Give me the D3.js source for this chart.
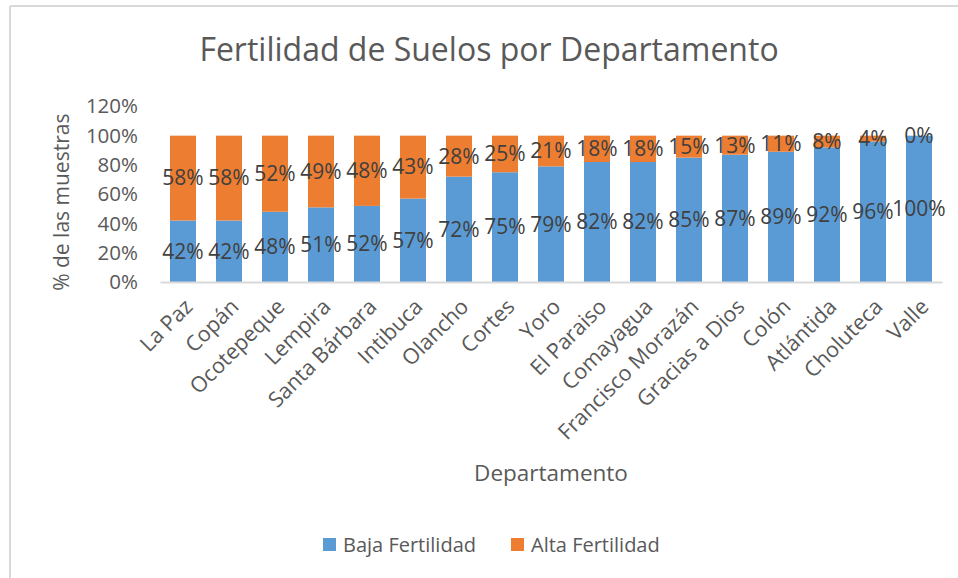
<!DOCTYPE html>
<html>
<head>
<meta charset="utf-8">
<script src="https://cdn.jsdelivr.net/npm/d3@7"></script>
<style>
  html, body { margin: 0; padding: 0; background: #ffffff; }
  svg { display: block; font-family: "Open Sans", "Noto Sans", sans-serif; }
</style>
</head>
<body>
<svg id="chart" width="958" height="578"></svg>
<script>
const categories = ["La Paz","Copán","Ocotepeque","Lempira","Santa Bárbara","Intibuca","Olancho","Cortes","Yoro","El Paraiso","Comayagua","Francisco Morazán","Gracias a Dios","Colón","Atlántida","Choluteca","Valle"];
const bajaFertilidad = [42,42,48,51,52,57,72,75,79,82,82,85,87,89,92,96,100];
const altaFertilidad = [58,58,52,49,48,43,28,25,21,18,18,15,13,11,8,4,0];
const seriesNames = ["Baja Fertilidad","Alta Fertilidad"];
const yTicks = [0,20,40,60,80,100,120];
const titleText = "Fertilidad de Suelos por Departamento";
const xTitle = "Departamento";
const yTitle = "% de las muestras";

const colors = ["#5B9BD5", "#ED7D31"];
const svg = d3.select("#chart");

// chart border (top and left visible)
svg.append("line").attr("x1", 10).attr("x2", 958).attr("y1", 6).attr("y2", 6)
  .attr("stroke", "#d9d9d9").attr("stroke-width", 2);
svg.append("line").attr("x1", 10).attr("x2", 10).attr("y1", 6).attr("y2", 578)
  .attr("stroke", "#d9d9d9").attr("stroke-width", 2);

const plot = {left: 160, right: 942, top: 106.4, bottom: 282};

const x = d3.scaleBand().domain(categories).range([plot.left, plot.right]).paddingInner(0.435).paddingOuter(0.2175);
const y = d3.scaleLinear().domain([0, 120]).range([plot.bottom, plot.top]);

const table = categories.map((c, i) => ({cat: c, baja: bajaFertilidad[i], alta: altaFertilidad[i]}));
const stack = d3.stack().keys(["baja", "alta"])(table);

// title
svg.append("text").attr("x", 489).attr("y", 61).attr("text-anchor", "middle")
  .attr("font-size", 32).attr("fill", "#595959").text(titleText);

// y axis
const yAxis = d3.axisLeft(y).tickValues(yTicks).tickFormat(d => d + "%").tickSize(0).tickPadding(22);
const gy = svg.append("g").attr("transform", `translate(${plot.left},0)`).call(yAxis);
gy.select(".domain").remove();
gy.selectAll("text").attr("font-size", 20.5).attr("fill", "#595959").attr("font-family", "Open Sans, sans-serif");

// bars
svg.append("g").selectAll("g").data(stack).join("g")
  .attr("fill", (d, i) => colors[i])
  .selectAll("rect").data(d => d).join("rect")
  .attr("x", d => x(d.data.cat))
  .attr("width", x.bandwidth())
  .attr("y", d => y(d[1]))
  .attr("height", d => y(d[0]) - y(d[1]));

// x axis line
const xAxis = d3.axisBottom(x).tickSize(0).tickPadding(0);
const gx = svg.append("g").attr("transform", `translate(0,${plot.bottom})`).call(xAxis);
gx.select(".domain").attr("stroke", "#d9d9d9").attr("stroke-width", 2);
gx.selectAll("text")
  .attr("font-size", 21.5).attr("fill", "#595959").attr("font-family", "Open Sans, sans-serif")
  .attr("text-anchor", "end")
  .attr("dy", null)
  .attr("y", 0)
  .attr("transform", d => `translate(${x.bandwidth()/2 - 2},26) rotate(-45)`)
  .attr("x", 0);

// data labels
const labels = svg.append("g").attr("font-size", 21).attr("fill", "#404040").attr("text-anchor", "middle");
stack.forEach((s, si) => {
  labels.selectAll(null).data(s).join("text")
    .attr("x", d => x(d.data.cat) + x.bandwidth() / 2)
    .attr("y", d => y((d[0] + d[1]) / 2))
    .attr("dy", "0.35em")
    .text(d => (d[1] - d[0]) + "%");
});

// axis titles
svg.append("text").attr("transform", `translate(69,${(plot.top + plot.bottom) / 2 + 8}) rotate(-90)`)
  .attr("text-anchor", "middle").attr("font-size", 21).attr("fill", "#595959").text(yTitle);
svg.append("text").attr("x", (plot.left + plot.right) / 2).attr("y", 481)
  .attr("text-anchor", "middle").attr("font-size", 22.5).attr("fill", "#595959").text(xTitle);

// legend
const legendX = [323, 511];
const lg = svg.append("g");
seriesNames.forEach((n, i) => {
  lg.append("rect").attr("x", legendX[i]).attr("y", 538).attr("width", 13).attr("height", 13).attr("fill", colors[i]);
  lg.append("text").attr("x", legendX[i] + 20).attr("y", 551.5).attr("font-size", 20).attr("fill", "#595959").text(n);
});
</script>
</body>
</html>
